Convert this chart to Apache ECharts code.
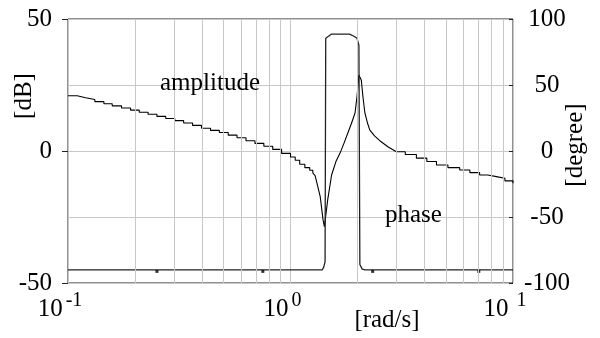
<!DOCTYPE html>
<html>
<head>
<meta charset="utf-8">
<script src="https://cdn.jsdelivr.net/npm/echarts@6/dist/echarts.min.js"></script>
<style>html,body{margin:0;padding:0;background:#fff;}#c{width:600px;height:338px;}</style>
</head>
<body>
<div id="c"></div>
<script>
// amplitude [dB] vs frequency [rad/s]
const ampLow = [[0.100,20.9],[0.110,20.2],[0.120,19.5],[0.132,18.7],[0.145,17.9],[0.158,17.1],[0.174,16.3],[0.191,15.5],[0.209,14.7],[0.229,13.9],[0.251,13.1],[0.275,12.3],[0.302,11.5],[0.331,10.6],[0.363,9.7],[0.398,8.6],[0.437,7.8],[0.479,7.0],[0.525,6.0],[0.575,5.0],[0.631,3.9],[0.692,2.9],[0.759,1.8],[0.832,0.6],[0.912,-0.9],[1.000,-2.3],[1.05,-3.5],[1.10,-5.0],[1.16,-6.3],[1.22,-7.3],[1.26,-8.4]];
const ampRes = [[1.26,-8.4],[1.29,-9.3],[1.31,-11.6],[1.36,-17.3],[1.40,-26.0],[1.42,-28.7],[1.47,-18.4],[1.53,-9.1],[1.60,-4.0],[1.67,-0.8],[1.74,3.0],[1.81,6.8],[1.88,10.5],[1.95,14.4],[1.99,20.6],[2.03,28.8],[2.08,26.9],[2.12,20.0],[2.16,14.4],[2.22,10.5],[2.27,8.0],[2.38,5.8],[2.52,3.9],[2.75,1.5],[2.99,-0.3]];
const ampHigh = [[2.99,-0.3],[3.28,-1.3],[3.68,-2.7],[4.1,-4.0],[4.53,-5.3],[5.1,-6.3],[5.76,-7.2],[6.4,-8.2],[7.08,-9.1],[7.7,-9.7],[8.42,-10.3],[9.2,-11.3],[10,-12.2]];
// phase [degree]
const phase = [[0.1,-90],[1.39,-90],[1.41,-88],[1.43,-84],[1.44,85.4],[1.53,88.6],[1.84,88.6],[1.92,87.1],[1.99,85.4],[2.03,80],[2.05,-86],[2.10,-89.5],[2.16,-90],[10,-90]];
const phaseMarkers = [[0.251,-91.2],[0.751,-91.2],[2.34,-91.2],[7.02,-91.2]];
// axes
const xMin = 0.1, xMax = 10;
const minorGrid = [0.2,0.3,0.4,0.5,0.6,0.7,0.8,0.9,2,3,4,5,6,7,8,9];
const dbRange = [-50, 50], dbStep = 50;
const degRange = [-100, 100], degStep = 50;

const FONT = '"Liberation Serif","Times New Roman",serif';
const FS = 25;
const chart = echarts.init(document.getElementById('c'), null, {renderer:'canvas'});
const sup = {'-1':'-1','0':'0','1':' 1'};
chart.setOption({
  animation:false,
  backgroundColor:'#fff',
  grid:{left:68,right:87,top:19,bottom:55,containLabel:false,outerBoundsMode:'none',show:true,borderColor:'#222',borderWidth:1,backgroundColor:'transparent'},
  xAxis:{
    type:'log', logBase:10, min:xMin, max:xMax,
    axisLine:{show:false}, axisTick:{show:false},
    splitLine:{show:true,lineStyle:{color:'#c8c8c8',width:1}},
    axisLabel:{
      margin:8, align:'center', padding:[0,16,0,0],
      formatter:function(v){const e=Math.round(Math.log10(v));return '{b|10}{s|'+sup[String(e)]+'}';},
      rich:{
        b:{fontFamily:FONT,fontSize:FS,color:'#000',lineHeight:36},
        s:{fontFamily:FONT,fontSize:20,color:'#000',lineHeight:22,verticalAlign:'top',padding:[0,0,0,3]}
      }
    }
  },
  yAxis:[
    {type:'value',min:dbRange[0],max:dbRange[1],interval:dbStep,
     axisLine:{show:false},axisTick:{show:true,inside:false,length:6,lineStyle:{color:'#222'}},
     splitLine:{show:false},
     axisLabel:{fontFamily:FONT,fontSize:FS,color:'#000',margin:16}},
    {type:'value',min:degRange[0],max:degRange[1],interval:degStep,position:'right',
     axisLine:{show:false},axisTick:{show:true,inside:true,length:4,lineStyle:{color:'#222'}},
     splitLine:{show:true,lineStyle:{color:'#c8c8c8',width:1}},
     axisLabel:{fontFamily:FONT,fontSize:FS,color:'#000',margin:34,align:'center'}}
  ],
  graphic:[
    {type:'text',z:100,left:160,top:71,style:{text:'amplitude',font:FS+'px '+FONT,fill:'#000'}},
    {type:'text',z:100,left:385,top:203,style:{text:'phase',font:FS+'px '+FONT,fill:'#000'}},
    {type:'text',z:100,x:387,y:320,style:{text:'[rad/s]',font:FS+'px '+FONT,fill:'#000',align:'center',verticalAlign:'middle'}},
    {type:'text',z:100,x:24,y:96,rotation:Math.PI/2,style:{text:'[dB]',font:FS+'px '+FONT,fill:'#000',align:'center',verticalAlign:'middle'}},
    {type:'text',z:100,x:575,y:145,rotation:Math.PI/2,style:{text:'[degree]',font:FS+'px '+FONT,fill:'#000',align:'center',verticalAlign:'middle'}}
  ],
  series:[
    {type:'line',data:[],z:1,silent:true,
     markLine:{silent:true,symbol:['none','none'],label:{show:false},animation:false,
       lineStyle:{color:'#c8c8c8',width:1,type:'solid'},
       data:minorGrid.map(v=>({xAxis:v}))}},
    {name:'amplitude',type:'line',data:ampLow,step:'end',showSymbol:false,z:3,lineStyle:{color:'#000',width:1.1}},
    {name:'amplitude',type:'line',data:ampRes,showSymbol:false,z:3,lineStyle:{color:'#000',width:1.1}},
    {name:'amplitude',type:'line',data:ampHigh,step:'end',showSymbol:false,z:3,lineStyle:{color:'#000',width:1.1}},
    {name:'phase',type:'line',yAxisIndex:1,data:phase,showSymbol:false,z:3,lineStyle:{color:'#222',width:1.3}},
    {name:'phase',type:'scatter',yAxisIndex:1,data:phaseMarkers,symbol:'rect',symbolSize:3,z:4,itemStyle:{color:'#000'}}
  ]
});
</script>
</body>
</html>
